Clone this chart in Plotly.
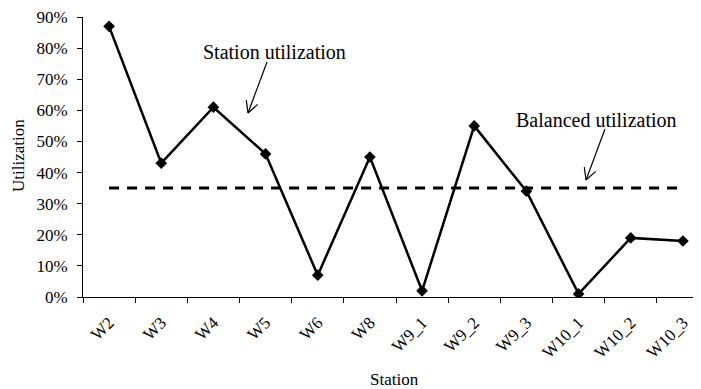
import math
import plotly.graph_objects as go

stations = ["W2", "W3", "W4", "W5", "W6", "W8", "W9_1", "W9_2", "W9_3", "W10_1", "W10_2", "W10_3"]
utilization = [0.87, 0.43, 0.61, 0.46, 0.07, 0.45, 0.02, 0.55, 0.34, 0.01, 0.19, 0.18]
balanced = [0.35] * len(stations)
y_ticks = [0.0, 0.1, 0.2, 0.3, 0.4, 0.5, 0.6, 0.7, 0.8, 0.9]

W, H = 701, 389
OFF = 8  # page body margin
L, R, T, B = 75, 0, 9, 100
pw, ph = W - L - R, H - T - B

FONT = "Liberation Serif"


def px(x):
    return (x - OFF - L) / pw


def py(y):
    return (H - B - (y - OFF)) / ph


fig = go.Figure()
fig.add_trace(go.Scatter(
    x=stations, y=balanced, mode="lines",
    line=dict(color="black", width=3, dash="10px,8px"),
    showlegend=False, hoverinfo="skip"))
fig.add_trace(go.Scatter(
    x=stations, y=utilization, mode="lines+markers",
    line=dict(color="black", width=2.5),
    marker=dict(symbol="diamond", size=9, color="black"),
    showlegend=False))

shapes = []


def arrow(x0, y0, x1, y1, arm=13, ang=28):
    dx, dy = x0 - x1, y0 - y1
    n = math.hypot(dx, dy)
    ux, uy = dx / n, dy / n
    segs = [(x0, y0, x1, y1)]
    for s in (-1, 1):
        a = math.radians(ang * s)
        rx = ux * math.cos(a) - uy * math.sin(a)
        ry = ux * math.sin(a) + uy * math.cos(a)
        segs.append((x1, y1, x1 + rx * arm, y1 + ry * arm))
    for (a0, b0, a1, b1) in segs:
        shapes.append(dict(type="line", xref="paper", yref="paper",
                           x0=px(a0), y0=py(b0), x1=px(a1), y1=py(b1),
                           line=dict(color="black", width=1.2)))


arrow(267, 62, 248, 113)
arrow(605, 129, 586, 180)

annotations = [
    dict(text="Station utilization", xref="paper", yref="paper",
         x=px(274), y=py(52), showarrow=False, xanchor="center", yanchor="middle",
         font=dict(family=FONT, size=20, color="black")),
    dict(text="Balanced utilization", xref="paper", yref="paper",
         x=px(596), y=py(120), showarrow=False, xanchor="center", yanchor="middle",
         font=dict(family=FONT, size=20, color="black")),
    dict(text="Station", xref="paper", yref="paper",
         x=px(394), y=py(379), showarrow=False, xanchor="center", yanchor="middle",
         font=dict(family=FONT, size=17, color="black")),
    dict(text="Utilization", xref="paper", yref="paper", textangle=-90,
         x=px(18), y=py(156), showarrow=False, xanchor="center", yanchor="middle",
         font=dict(family=FONT, size=17, color="black")),
]

fig.update_layout(
    width=W, height=H,
    margin=dict(l=L, r=R, t=T, b=B, autoexpand=False),
    paper_bgcolor="white", plot_bgcolor="white",
    font=dict(family=FONT, size=17, color="black"),
    shapes=shapes, annotations=annotations,
    xaxis=dict(
        type="category", range=[-0.5, 11.5], automargin=False,
        showline=True, linecolor="black", linewidth=1,
        ticks="outside", tickson="boundaries", ticklen=5, tickcolor="black",
        tickangle=-45, showgrid=False, zeroline=False, ticklabelstandoff=8,
        ticklabeloverflow="allow",
    ),
    yaxis=dict(
        range=[0, 0.9], tickvals=y_ticks, tickformat=".0%", automargin=False,
        showline=True, linecolor="black", linewidth=1,
        ticks="outside", ticklen=5, tickcolor="black",
        showgrid=False, zeroline=False, ticklabelstandoff=6,
        ticklabeloverflow="allow",
    ),
)

fig.write_html("out.html")
